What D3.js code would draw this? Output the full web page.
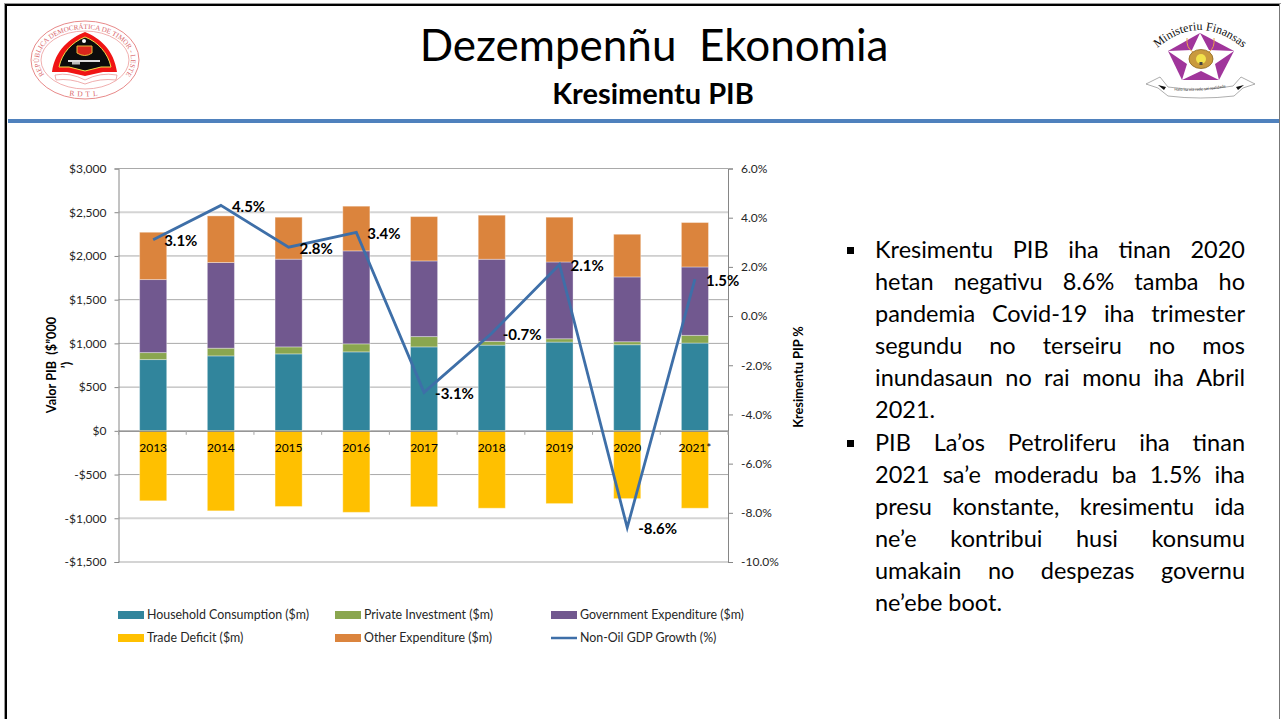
<!DOCTYPE html>
<html>
<head>
<meta charset="utf-8">
<title>Dezempenñu Ekonomia</title>
<script src="https://cdnjs.cloudflare.com/ajax/libs/d3/7.8.5/d3.min.js"></script>
<style>
  html, body { margin: 0; padding: 0; background: #fff; overflow: hidden; }
  text { font-family: Lato, "Open Sans", sans-serif; }
  .axis text { font-size: 12px; fill: #262626; }
  .axis line, .axis path { stroke: #868686; }
</style>
</head>
<body>
<svg id="slide" width="1282" height="719"></svg>
<script>
var years = ['2013', '2014', '2015', '2016', '2017', '2018', '2019', '2020', '2021*'];

var household = [815, 857, 880, 903, 960, 980, 1015, 985, 1004];
var investment = [80, 88, 80, 92, 118, 43, 38, 34, 88];
var government = [835, 980, 1003, 1063, 865, 939, 878, 741, 782];
var other = [541, 533, 480, 511, 507, 504, 512, 488, 508];
var tradeDeficit = [-800, -915, -865, -932, -868, -885, -832, -775, -885];
var growth = [3.1, 4.5, 2.8, 3.4, -3.1, -0.7, 2.1, -8.6, 1.5];

var leftTicks = [3000, 2500, 2000, 1500, 1000, 500, 0, -500, -1000, -1500];
var rightTicks = [6, 4, 2, 0, -2, -4, -6, -8, -10];
var heavyGrid = [2500, -1000];

var legendNames = ['Household Consumption ($m)', 'Private Investment ($m)', 'Government Expenditure ($m)',
  'Trade Deficit ($m)', 'Other Expenditure ($m)', 'Non-Oil GDP Growth (%)'];

var bulletOne = ['Kresimentu PIB iha tinan 2020', 'hetan negativu 8.6% tamba ho', 'pandemia Covid-19 iha trimester',
  'segundu no terseiru no mos', 'inundasaun no rai monu iha Abril', '2021.'];
var bulletTwo = ['PIB La’os Petroliferu iha tinan', '2021 sa’e moderadu ba 1.5% iha', 'presu konstante, kresimentu ida',
  'ne’e kontribui husi konsumu', 'umakain no despezas governu', 'ne’ebe boot.'];

var colors = { household: '#31859c', investment: '#8aa64f', government: '#71588f', trade: '#ffc000', other: '#db843d', line: '#3e6fa8' };

var svg = d3.select('#slide');

// slide frame and header
svg.append('rect').attr('width', 1282).attr('height', 719).attr('fill', '#fff');
svg.append('rect').attr('x', 4).attr('y', 3).attr('width', 1277).attr('height', 1).attr('fill', '#999');
svg.append('rect').attr('x', 5).attr('y', 4).attr('width', 1275).attr('height', 2).attr('fill', '#000');
svg.append('rect').attr('x', 4).attr('y', 3).attr('width', 1).attr('height', 716).attr('fill', '#999');
svg.append('rect').attr('x', 5).attr('y', 4).attr('width', 2).attr('height', 715).attr('fill', '#000');
svg.append('rect').attr('x', 1279).attr('y', 4).attr('width', 1).attr('height', 715).attr('fill', '#777');
svg.append('rect').attr('x', 8).attr('y', 119).attr('width', 1271).attr('height', 4).attr('fill', '#4f81bd');

svg.append('text').attr('x', 654).attr('y', 61).attr('text-anchor', 'middle')
  .style('font-size', '44px').attr('fill', '#000').attr('xml:space', 'preserve').text('Dezempenñu  Ekonomia');
svg.append('text').attr('x', 653).attr('y', 104).attr('text-anchor', 'middle')
  .style('font-size', '29px').style('font-weight', 700).attr('fill', '#000').text('Kresimentu PIB');

// chart
var plot = { left: 118.5, right: 728, top: 168.5, bottom: 562 };

// bars sit a little right of the exact band centre in the original
var x = d3.scaleBand().domain(years).range([plot.left + 0.8, plot.right + 0.8]).paddingInner(0.6).paddingOuter(0.3);
var y = d3.scaleLinear().domain([-1500, 3000]).range([plot.bottom, plot.top]);
var y2 = d3.scaleLinear().domain([-10, 6]).range([plot.bottom, plot.top]);

// gridlines
svg.append('g').selectAll('line').data(leftTicks).enter().append('line')
  .attr('x1', plot.left).attr('x2', plot.right)
  .attr('y1', function(d) { return y(d); })
  .attr('y2', function(d) { return y(d); })
  .attr('stroke', function(d) { return heavyGrid.indexOf(d) >= 0 ? '#d4d4d4' : '#a9a9a9'; })
  .attr('stroke-width', function(d) { return heavyGrid.indexOf(d) >= 0 ? 2 : 1; });

// stacked bars
var rows = years.map(function(year, i) {
  return { year: year, household: household[i], investment: investment[i], government: government[i], other: other[i] };
});
var stack = d3.stack().keys(['household', 'investment', 'government', 'other']);

stack(rows).forEach(function(layer) {
  svg.append('g').selectAll('rect').data(layer).enter().append('rect')
    .attr('x', function(d) { return x(d.data.year); })
    .attr('width', x.bandwidth())
    .attr('y', function(d) { return y(d[1]); })
    .attr('height', function(d) { return y(d[0]) - y(d[1]); })
    .attr('fill', colors[layer.key])
    .attr('stroke', '#fff').attr('stroke-opacity', 0.35);
});

svg.append('g').selectAll('rect').data(tradeDeficit).enter().append('rect')
  .attr('x', function(d, i) { return x(years[i]); })
  .attr('width', x.bandwidth())
  .attr('y', y(0))
  .attr('height', function(d) { return y(d) - y(0); })
  .attr('fill', colors.trade)
  .attr('stroke', '#fff').attr('stroke-opacity', 0.35);

// axes
var leftAxis = d3.axisLeft(y).tickValues(leftTicks).tickSize(4).tickPadding(8)
  .tickFormat(function(d) { return d3.format('$,')(d).replace('−', '-'); });
svg.append('g').attr('class', 'axis').attr('transform', 'translate(' + plot.left + ',0)').call(leftAxis);

var rightAxis = d3.axisRight(y2).tickValues(rightTicks).tickSize(5).tickPadding(8)
  .tickFormat(function(d) { return d3.format('.1f')(d).replace('−', '-') + '%'; });
svg.append('g').attr('class', 'axis').attr('transform', 'translate(' + plot.right + ',0)').call(rightAxis);

var bottomAxis = d3.axisBottom(x).tickSize(0).tickPadding(13);
var xAxis = svg.append('g').attr('class', 'axis').attr('transform', 'translate(0,' + y(0) + ')').call(bottomAxis);
xAxis.select('.domain').attr('d', 'M' + plot.left + ',0.5H' + plot.right);
xAxis.selectAll('text').style('fill', '#000');

// year separators on the zero line
svg.append('g').selectAll('line').data(d3.range(years.length + 1)).enter().append('line')
  .attr('x1', function(d) { return plot.left + d * x.step(); })
  .attr('x2', function(d) { return plot.left + d * x.step(); })
  .attr('y1', y(0)).attr('y2', y(0) + 4)
  .attr('stroke', '#a6a6a6');

// growth line, on the right axis
var growthLine = d3.line()
  .x(function(d, i) { return x(years[i]) + x.bandwidth() / 2; })
  .y(function(d) { return y2(d); });

svg.append('path').datum(growth).attr('d', growthLine)
  .attr('fill', 'none').attr('stroke', colors.line).attr('stroke-width', 2.8).attr('stroke-linejoin', 'miter');

svg.append('g').selectAll('text').data(growth).enter().append('text')
  .attr('x', function(d, i) { return x(years[i]) + x.bandwidth() / 2 + 11; })
  .attr('y', function(d) { return y2(d) + 6.5; })
  .style('font-size', '15px').style('font-weight', 700).attr('fill', '#000')
  .text(function(d) { return d.toFixed(1) + '%'; });

// axis titles
var leftTitle = svg.append('text').attr('transform', 'translate(56,365) rotate(-90)')
  .attr('text-anchor', 'middle').style('font-size', '12.7px').style('font-weight', 700).attr('fill', '#000');
leftTitle.append('tspan').attr('x', 0).attr('y', 0).attr('xml:space', 'preserve').text('Valor PIB  ($”000');
leftTitle.append('tspan').attr('x', 0).attr('y', 15).text('’)');

svg.append('text').attr('transform', 'translate(803,377) rotate(-90)')
  .attr('text-anchor', 'middle').style('font-size', '12.8px').style('font-weight', 700).attr('fill', '#000')
  .text('Kresimentu PIP %');

// legend
var legendCols = [118, 335, 551];
var legendRows = [615, 638];
var legendColors = [colors.household, colors.investment, colors.government, colors.trade, colors.other, colors.line];

legendNames.forEach(function(name, i) {
  var lx = legendCols[i % 3], ly = legendRows[Math.floor(i / 3)];
  if (i == 5) {
    svg.append('line').attr('x1', lx).attr('x2', lx + 26).attr('y1', ly).attr('y2', ly)
      .attr('stroke', legendColors[i]).attr('stroke-width', 2.5);
  } else {
    svg.append('rect').attr('x', lx).attr('y', ly - 4).attr('width', 26).attr('height', 8).attr('fill', legendColors[i]);
  }
  svg.append('text').attr('x', lx + 29).attr('y', ly + 4).style('font-size', '12.4px').attr('fill', '#262626').text(name);
});

// bullet text, justified by hand so the right edge lines up
var textLeft = 875, textRight = 1245, lineGap = 32;

var drawBullet = function(lines, baseline) {
  svg.append('rect').attr('x', 847).attr('y', baseline - 11).attr('width', 7).attr('height', 7).attr('fill', '#000');
  lines.forEach(function(line, n) {
    var words = line.split(' ');
    var nodes = words.map(function(w) {
      return svg.append('text').attr('y', baseline + n * lineGap)
        .style('font-size', '23.5px').attr('fill', '#000').text(w);
    });
    var widths = nodes.map(function(t) { return t.node().getComputedTextLength(); });
    var total = d3.sum(widths);
    var gap = n == lines.length - 1 ? 6 : (textRight - textLeft - total) / (words.length - 1);
    var pos = textLeft;
    nodes.forEach(function(t, k) {
      t.attr('x', pos);
      pos += widths[k] + gap;
    });
  });
};
drawBullet(bulletOne, 258);
drawBullet(bulletTwo, 451);

// government seal
var seal = svg.append('g');
seal.append('ellipse').attr('cx', 85).attr('cy', 60).attr('rx', 54).attr('ry', 39)
  .attr('fill', '#fff').attr('stroke', '#e88a8a').attr('stroke-width', 1);
seal.append('ellipse').attr('cx', 85).attr('cy', 60).attr('rx', 44).attr('ry', 29)
  .attr('fill', 'none').attr('stroke', '#ec9a9a').attr('stroke-width', 0.8);
svg.append('defs').html(
  '<path id="sealTop" d="M47.5,78 A46,31 0 1 1 122.5,78"/>' +
  '<path id="sealBottom" d="M60,94 Q85,99 110,94"/>' +
  '<path id="minTop" d="M1155,50 Q1200,10 1245,50"/>' +
  '<path id="minBottom" d="M1168,90 Q1200,93 1232,86"/>');
seal.append('text').style('font-family', '"Liberation Serif", serif').style('font-size', '7px').attr('fill', '#d9666a')
  .append('textPath').attr('href', '#sealTop').attr('startOffset', '50%').attr('text-anchor', 'middle')
  .text('REPÚBLICA DEMOCRÁTICA DE TIMOR - LESTE');
seal.append('text').style('font-family', '"Liberation Serif", serif').style('font-size', '7.5px').attr('fill', '#d9666a')
  .attr('letter-spacing', 3)
  .append('textPath').attr('href', '#sealBottom').attr('startOffset', '50%').attr('text-anchor', 'middle').text('RDTL');
seal.append('path').attr('d', 'M85,32 C100,38 114,50 117,72 L103,72 L85,76 L67,72 L52,72 C55,50 70,38 85,32 Z').attr('fill', '#f01414');
seal.append('path').attr('d', 'M85,37 C98,42 108,53 111,67 L101,67 L85,71 L69,67 L59,67 C62,53 72,42 85,37 Z')
  .attr('fill', '#0c0c0c').attr('stroke', '#f2e14a').attr('stroke-width', 1);
seal.append('circle').attr('cx', 84).attr('cy', 41).attr('r', 2).attr('fill', '#fff');
seal.append('path').attr('d', 'M77,46 H92 V53 Q85,58 77,53 Z').attr('fill', '#d9261c').attr('stroke', '#e8b93a').attr('stroke-width', 1);
seal.append('rect').attr('x', 68).attr('y', 60).attr('width', 32).attr('height', 2).attr('fill', '#ddd');
seal.append('rect').attr('x', 72).attr('y', 62).attr('width', 8).attr('height', 2.5).attr('fill', '#bbb');
seal.append('path').attr('d', 'M55,75 Q70,72 85,80 Q100,72 117,75 L116,80 Q100,78 85,84 Q70,78 56,80 Z')
  .attr('fill', '#fff').attr('stroke', '#e88a8a').attr('stroke-width', 0.7);

// ministry logo
var logo = svg.append('g');
logo.append('path').attr('d', 'M1200,33 L1234,51 L1219,80 L1182,80 L1168,51 Z').attr('fill', '#a0359b');
logo.append('path').attr('d', 'M1200,33 L1209,50 L1234,51 L1215,64 L1219,80 L1201,71 L1182,80 L1187,64 L1168,51 L1192,50 Z').attr('fill', '#fff');
logo.append('path').attr('d', 'M1187,38 Q1186,48 1193,52 M1214,38 Q1215,48 1209,52').attr('fill', 'none').attr('stroke', '#e8a24c').attr('stroke-width', 1);
logo.append('ellipse').attr('cx', 1201).attr('cy', 59).attr('rx', 12).attr('ry', 9.5).attr('fill', '#c99a3e').attr('stroke', '#8a6420').attr('stroke-width', 0.8);
logo.append('circle').attr('cx', 1201).attr('cy', 59).attr('r', 5).attr('fill', '#f2e24c');
logo.append('rect').attr('x', 1199.5).attr('y', 62).attr('width', 3).attr('height', 3).attr('fill', '#444');
logo.append('path').attr('d', 'M1146,84 L1160,77 L1168,87 Q1200,92 1233,86 L1241,77 L1255,84 L1243,88 L1234,96 Q1200,100 1168,96 L1158,88 Z')
  .attr('fill', '#fff').attr('stroke', '#777').attr('stroke-width', 0.6);
logo.append('path').attr('d', 'M1158,85 L1166,87 L1164,90 Z M1244,85 L1236,87 L1238,90 Z').attr('fill', '#111');
logo.append('text').style('font-family', '"Liberation Serif", serif').style('font-size', '12px').attr('fill', '#111')
  .append('textPath').attr('href', '#minTop').attr('startOffset', '50%').attr('text-anchor', 'middle').text('Ministeriu Finansas');
logo.append('text').style('font-size', '4px').attr('fill', '#333')
  .append('textPath').attr('href', '#minBottom').attr('startOffset', '50%').attr('text-anchor', 'middle').text('Halo ita nia rede sai realidade');
</script>
</body>
</html>
